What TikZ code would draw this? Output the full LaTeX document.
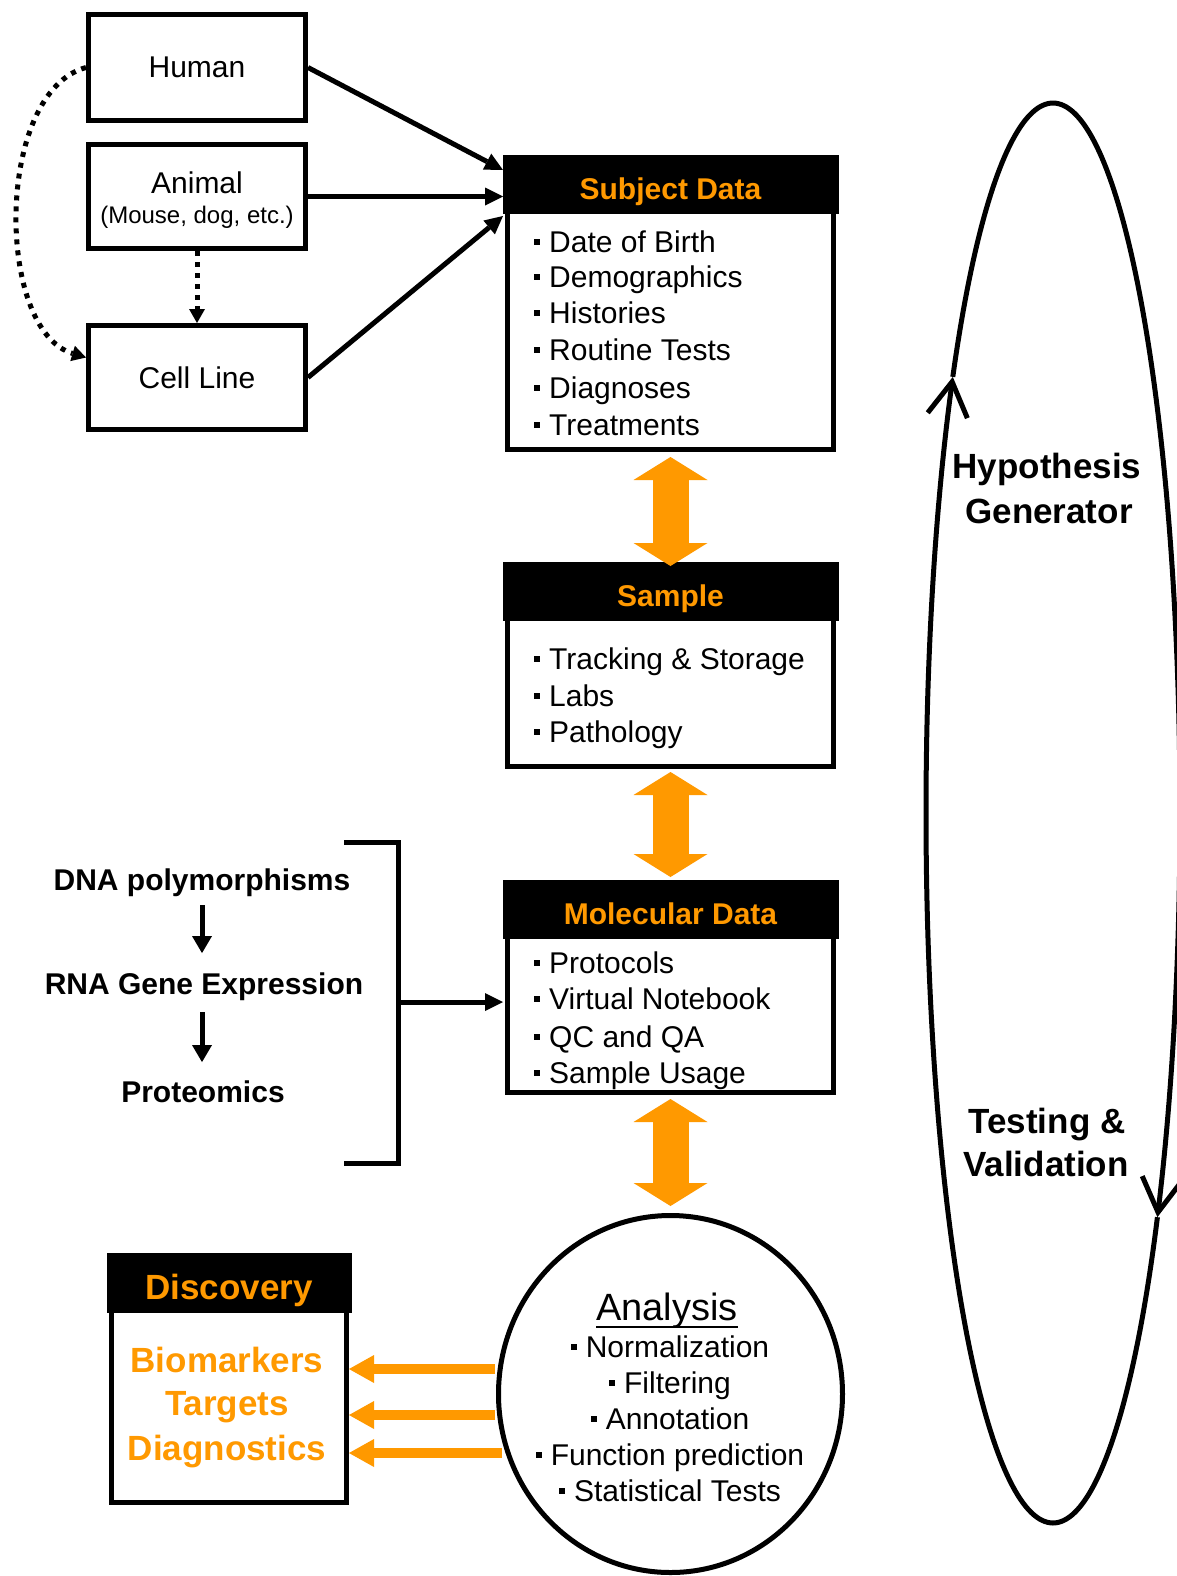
\documentclass[tikz,border=0pt]{standalone}
\usepackage{fontspec}
\setmainfont{Liberation Sans}
\usetikzlibrary{arrows.meta,shapes.geometric,calc}
\definecolor{org}{RGB}{255,153,0}
\newcommand{\bul}{\raisebox{7pt}{\rule{6pt}{6pt}}\hspace{9pt}}
\newcommand{\fsz}[1]{\fontsize{#1}{#1}\selectfont}
\begin{document}
\begin{tikzpicture}[x=1pt,y=-1pt,
  box/.style={draw,line width=5pt,inner sep=0pt},
  txt/.style={inner sep=0pt,anchor=base,font=\fsz{30}},
  item/.style={inner sep=0pt,anchor=base west,font=\fsz{30}},
  ttl/.style={inner sep=0pt,anchor=base,font=\fsz{30}\bfseries,text=org},
  lbl/.style={inner sep=0pt,anchor=base,font=\fsz{30}\bfseries},
  disc/.style={inner sep=0pt,anchor=base,font=\fsz{35}\bfseries,text=org},
  cyc/.style={inner sep=0pt,anchor=base,font=\fsz{35}\bfseries},
  blk/.style={line width=5pt,-{Triangle[length=18pt,width=18pt,line width=0pt]}},
  blkd/.style={line width=5pt,-{Triangle[length=17pt,width=20pt,line width=0pt]}},
  dotarr/.style={line width=5pt,dash pattern=on 5pt off 6pt,-{Triangle[length=14pt,width=16pt,line width=0pt]}},
  bigarr/.style={org,line width=36pt,{Triangle[width=74pt,length=23pt,line width=0pt]}-{Triangle[width=74pt,length=23pt,line width=0pt]}},
  sidearr/.style={org,line width=10pt,-{Triangle[width=28pt,length=25pt,line width=0pt]}},
  loopline/.style={line width=5pt,-{Straight Barb[length=34pt,width=40pt]}}
]
\fill[white] (0,0) rectangle (1177,1576);
\useasboundingbox (0,0) rectangle (1177,1576);

% source boxes
\node[box,minimum width=217pt,minimum height=106pt,font=\fsz{30}] (hum) at (197,67.5) {Human};
\node[box,minimum width=217pt,minimum height=104pt] (ani) at (197,196.5) {};
\node[txt] (anit) at (197,193) {Animal};
\node[txt,font=\fsz{24}] (anis) at (197,223) {(Mouse, dog, etc.)};
\node[box,minimum width=217pt,minimum height=104pt,font=\fsz{30}] (cell) at (197,377.5) {Cell Line};

% Subject data
\node[box,minimum width=326pt,minimum height=290pt] (subj) at (670.5,304.5) {};
\fill ($(subj.north west)+(-2.5,-2.5)$) rectangle ($(subj.north east)+(2.5,56.5)$);
\node[ttl] (subjt) at (670.5,199) {Subject Data};
\foreach \t/\y [count=\i] in {Date of Birth/252,Demographics/287,Histories/323,Routine Tests/360,Diagnoses/398,Treatments/435}
  \node[item] (subj\i) at (534,\y) {\bul\t};

% Sample
\node[box,minimum width=326pt,minimum height=200pt] (samp) at (670.5,666.5) {};
\fill ($(samp.north west)+(-2.5,-2.5)$) rectangle ($(samp.north east)+(2.5,56.5)$);
\node[ttl] (sampt) at (670.5,606) {Sample};
\foreach \t/\y [count=\i] in {Tracking \& Storage/669,Labs/706,Pathology/742}
  \node[item] (samp\i) at (534,\y) {\bul\t};

% Molecular
\node[box,minimum width=326pt,minimum height=208pt] (mol) at (670.5,988.5) {};
\fill ($(mol.north west)+(-2.5,-2.5)$) rectangle ($(mol.north east)+(2.5,56.5)$);
\node[ttl] (molt) at (670.5,924) {Molecular Data};
\foreach \t/\y [count=\i] in {Protocols/973,Virtual Notebook/1009,QC and QA/1047,Sample Usage/1083}
  \node[item] (mol\i) at (534,\y) {\bul\t};

% Discovery
\node[box,minimum width=235pt,minimum height=245pt] (dis) at (229,1380) {};
\fill ($(dis.north west)+(-2.5,-2.5)$) rectangle ($(dis.north east)+(2.5,57.5)$);
\node[disc] (dist) at (229,1299) {Discovery};
\node[disc] (dis1) at (227,1372) {Biomarkers};
\node[disc] (dis2) at (227,1415) {Targets};
\node[disc] (dis3) at (227,1460) {Diagnostics};

% Analysis
\coordinate (o1) at (495,1369);
\coordinate (o2) at (495,1415);
\coordinate (o3) at (502,1453);
\draw[sidearr] (o1) -- (o1 -| dis.east);
\draw[sidearr] (o2) -- (o2 -| dis.east);
\draw[sidearr] (o3) -- (o3 -| dis.east);
\node[draw,ellipse,line width=5pt,inner sep=0pt,minimum width=344pt,minimum height=357pt] (ana) at (670.5,1394) {};
\node[txt,font=\fsz{38}] (anat) at (667,1320) {Analysis};
\draw[line width=2pt] ($(anat.base west)+(0,7)$) -- ($(anat.base east)+(0,7)$);
\foreach \t/\y [count=\i] in {Normalization/1357,Filtering/1393,Annotation/1429,Function prediction/1465,Statistical Tests/1501}
  \node[txt] (ana\i) at (670,\y) {\bul\t};

% connectors at top
\draw[dotarr] (hum.west) .. controls (-5,92) and (-5,330) .. ($(cell.west)+(0,-20)$);
\draw[dotarr] (ani.south) -- (cell.north);
\draw[blk] (hum.east) -- ($(subj.north west)+(-2,13)$);
\draw[blk] (ani.east) -- ($(ani.east -| subj.west)+(-2,0)$);
\draw[blk] (cell.east) -- ($(subj.north west)+(-2,59)$);

% orange double arrows
\draw[bigarr,shorten <=5pt,shorten >=-2pt] (subj.south) -- (samp.north);
\draw[bigarr,shorten <=3pt,shorten >=5pt] (samp.south) -- (mol.north);
\draw[bigarr,shorten <=4pt,shorten >=7pt] (mol.south) -- (ana.north);

% omics
\node[lbl] (dna) at (202,890) {DNA polymorphisms};
\node[lbl] (rna) at (204,994) {RNA Gene Expression};
\node[lbl] (prot) at (203,1102) {Proteomics};
\draw[blkd,shorten <=9pt,shorten >=19pt] (dna.south) -- (dna.south |- rna.north);
\draw[blkd,shorten <=12pt,shorten >=18pt] (dna.south |- rna.south) -- (dna.south |- prot.north);
\draw[line width=5pt] (344,842) -| (398,1163) -- (344,1163);
\coordinate (brk) at (398,1002);
\draw[blk] (brk) -- ($(brk -| mol.west)+(-2,0)$);

% cycle
\draw[loopline] plot[domain=34.7:217.9,samples=150,variable=\t] ({1053+127*cos(\t)},{813+710*sin(\t)});
\draw[loopline] plot[domain=217.9:394.7,samples=150,variable=\t] ({1053+127*cos(\t)},{813+710*sin(\t)});
\node[cyc] (hyp1) at (1047,478) {Hypothesis};
\node[cyc] (hyp2) at (1049,523) {Generator};
\node[cyc] (tst1) at (1047,1133) {Testing \&};
\node[cyc] (tst2) at (1046,1176) {Validation};
\end{tikzpicture}
\end{document}
